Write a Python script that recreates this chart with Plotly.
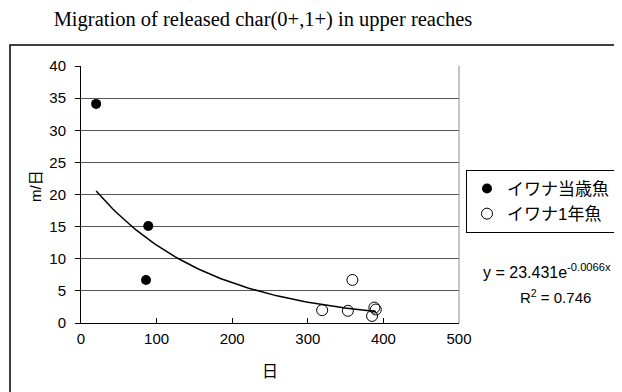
import numpy as np
import plotly.graph_objects as go

# Data
days_0plus = [20, 89, 86]
speed_0plus = [34.1, 15.1, 6.7]
days_1plus = [319, 353, 359, 388, 390, 385]
speed_1plus = [2.0, 1.9, 6.7, 2.4, 2.1, 1.1]

# Exponential trendline shown on chart: y = 23.431 e^(-0.0066x)
trend_a = 23.431
trend_b = -0.0066
trend_range = [20, 390]

series_names = ["イワナ当歳魚", "イワナ1年魚"]
title_text = "Migration of released char(0+,1+) in upper reaches"

tx = np.linspace(trend_range[0], trend_range[1], 100)
ty = trend_a * np.exp(trend_b * tx)

# The page body adds an 8px margin; size the figure so it fits the window.
OFF = 8
W, H = 622 - OFF, 392 - OFF
plot_left, plot_right, plot_top, plot_bottom = 81, 459, 66, 323  # in window pixels
L = plot_left - OFF
T = plot_top - OFF
R = W - (plot_right - OFF)
B = H - (plot_bottom - OFF)
pw, ph = W - L - R, H - T - B

def px(xpix):
    return (xpix - OFF - L) / pw

def py(ypix):
    return (H - B - (ypix - OFF)) / ph

fig = go.Figure()
fig.add_trace(go.Scatter(x=tx, y=ty, mode="lines", line=dict(color="black", width=1.5),
                         showlegend=False, hoverinfo="skip"))
fig.add_trace(go.Scatter(x=days_0plus, y=speed_0plus, mode="markers", name=series_names[0],
                         marker=dict(symbol="circle", size=10, color="black")))
fig.add_trace(go.Scatter(x=days_1plus, y=speed_1plus, mode="markers", name=series_names[1],
                         marker=dict(symbol="circle-open", size=11, color="black",
                                     line=dict(width=1, color="black"))))

font_sans = "Liberation Sans, Arial, Noto Sans CJK JP, sans-serif"

fig.update_layout(
    width=W, height=H,
    margin=dict(l=L, r=R, t=T, b=B, autoexpand=False),
    paper_bgcolor="white", plot_bgcolor="white",
    font=dict(family=font_sans, size=15, color="black"),
    title=dict(text=title_text, x=px(263), xref="paper", xanchor="center",
               y=1 - (19 - OFF) / H, yanchor="middle",
               font=dict(family="Liberation Serif, Times New Roman, serif", size=20.5)),
    xaxis=dict(range=[0, 500], dtick=100, showgrid=False, zeroline=False,
               showline=True, linecolor="black", linewidth=1,
               ticks="inside", ticklen=5, tickcolor="black",
               tickfont=dict(size=15), ticklabelstandoff=2),
    yaxis=dict(range=[0, 40], dtick=5, showgrid=True, gridcolor="#555555", gridwidth=1,
               zeroline=False, showline=True, linecolor="black", linewidth=1,
               ticks="outside", ticklen=5, tickcolor="black",
               tickfont=dict(size=15), ticklabelstandoff=6),
    legend=dict(x=px(466), y=py(170), xanchor="left", yanchor="top",
                bordercolor="black", borderwidth=1, bgcolor="white",
                font=dict(size=17, family=font_sans),
                itemwidth=30, tracegroupgap=0),
    showlegend=True,
)

shapes = [
    # plot area right border
    dict(type="line", xref="paper", yref="paper", x0=1, x1=1, y0=0, y1=1,
         line=dict(color="#888888", width=1)),
    # outer chart frame
    dict(type="rect", xref="paper", yref="paper",
         x0=px(10), x1=px(620), y0=py(400), y1=py(45),
         line=dict(color="black", width=1.5), fillcolor="rgba(0,0,0,0)", layer="below"),
]
fig.update_layout(shapes=shapes)

annotations = [
    dict(text="y = 23.431e<sup>-0.0066x</sup>", xref="paper", yref="paper",
         x=px(547), y=py(271), xanchor="center", yanchor="middle", showarrow=False,
         font=dict(size=16, family=font_sans)),
    dict(text="R<sup>2</sup> = 0.746", xref="paper", yref="paper",
         x=px(555), y=py(296), xanchor="center", yanchor="middle", showarrow=False,
         font=dict(size=15, family=font_sans)),
    dict(text="m/日", xref="paper", yref="paper", x=px(35), y=py(186),
         xanchor="center", yanchor="middle", textangle=-90, showarrow=False,
         font=dict(size=15, family=font_sans)),
    dict(text="日", xref="paper", yref="paper", x=px(270), y=py(371),
         xanchor="center", yanchor="middle", showarrow=False,
         font=dict(size=16, family=font_sans)),
]
fig.update_layout(annotations=annotations)

fig.write_html("out.html")
